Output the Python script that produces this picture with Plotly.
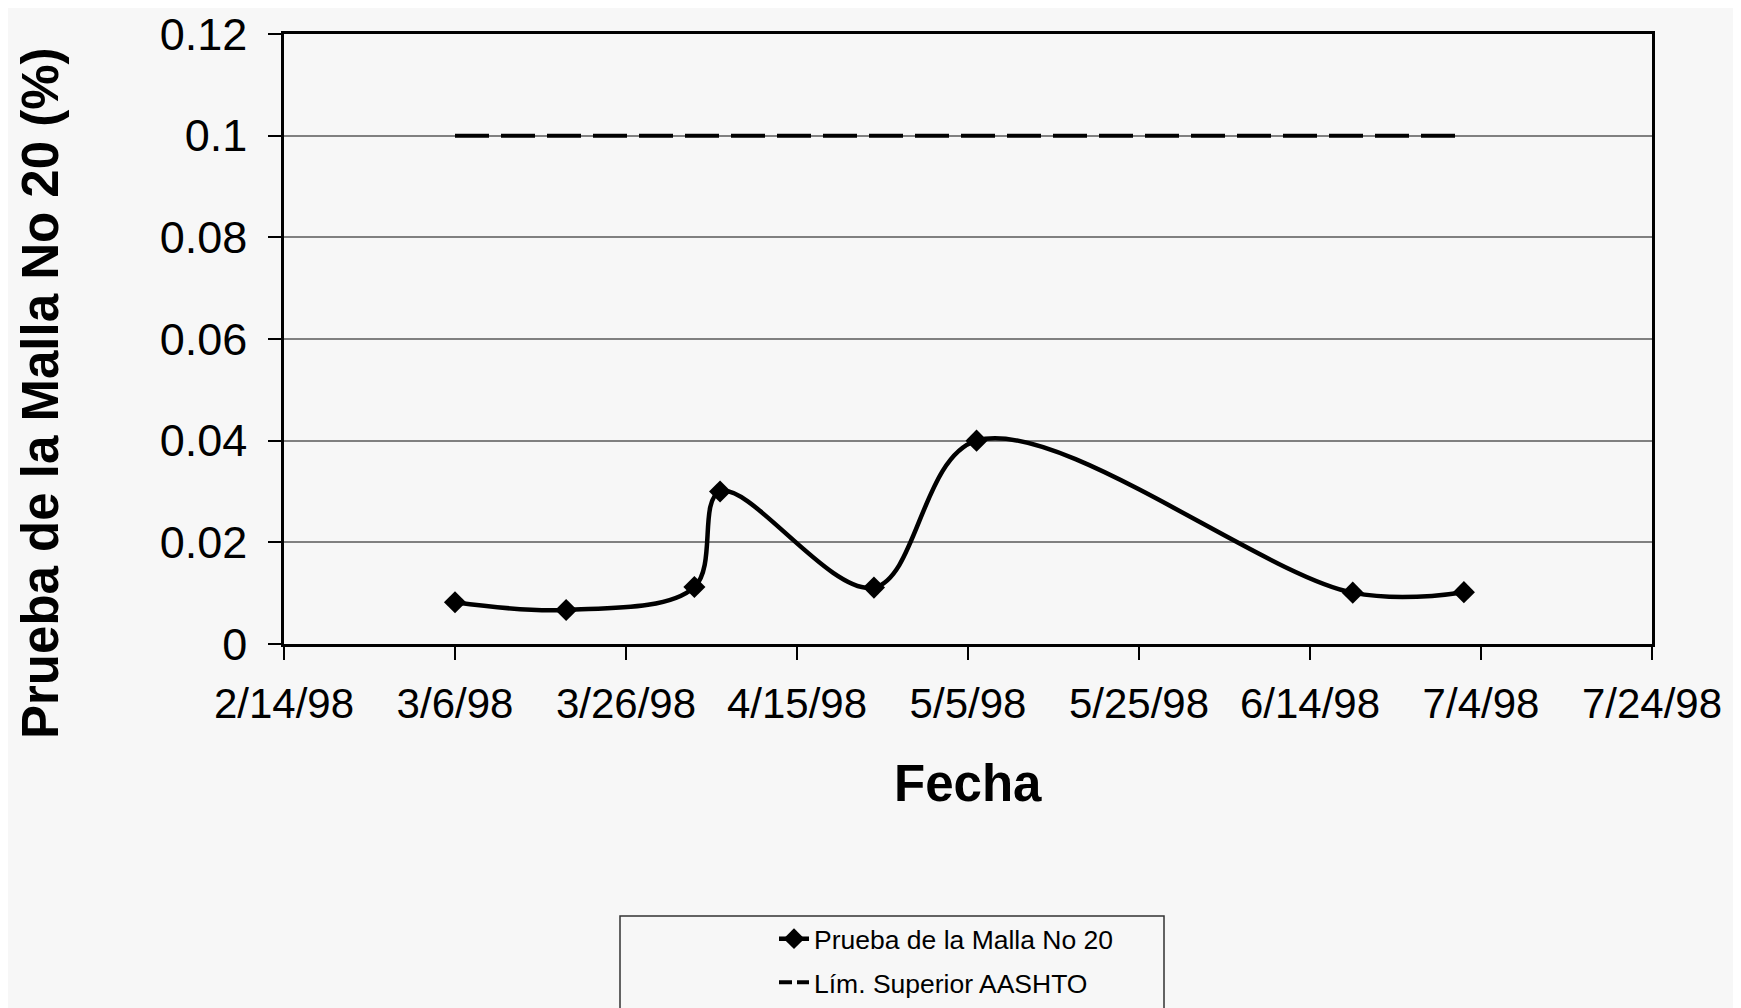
import plotly.graph_objects as go

# datos
fechas = ["1998-03-06", "1998-03-19", "1998-04-03", "1998-04-06",
          "1998-04-24", "1998-05-06", "1998-06-19", "1998-07-02"]
malla_20 = [0.0082, 0.0067, 0.0112, 0.030, 0.0111, 0.040, 0.0101, 0.0102]
lim_aashto = [0.1, 0.1, 0.1, 0.1, 0.1, 0.1, 0.1, 0.1]

y_ticks = [0, 0.02, 0.04, 0.06, 0.08, 0.1, 0.12]

FONT = "Arial, 'Liberation Sans', sans-serif"
BG = "#f7f7f7"

W, H = 1741, 1008
L, R, T, B = 276, 97, 26, 372
plot_w = W - L - R
plot_h = H - T - B


def px_x(px):
    return (px - L) / plot_w


def px_y(py):
    return (H - B - py) / plot_h


fig = go.Figure()

fig.add_trace(go.Scatter(
    x=fechas, y=malla_20,
    mode="lines+markers",
    name="Prueba de la Malla No 20",
    legendgroup="a",
    line=dict(color="black", width=4.5, shape="spline", smoothing=1),
    marker=dict(symbol="diamond", size=17, color="black"),
))

fig.add_trace(go.Scatter(
    x=fechas, y=lim_aashto,
    mode="lines",
    name="Lím. Superior AASHTO",
    legendgroup="b",
    showlegend=False,
    line=dict(color="black", width=4, dash="34px,12px"),
))

# entrada de leyenda con guiones cortos (el simbolo de la leyenda mide 30 px)
fig.add_trace(go.Scatter(
    x=[None], y=[None],
    mode="lines",
    name="Lím. Superior AASHTO",
    legendgroup="b",
    line=dict(color="black", width=4, dash="13px,5px"),
    hoverinfo="skip",
))

axis_common = dict(
    showline=True, linecolor="black", linewidth=2.5, mirror=True,
    ticks="outside", ticklen=13, tickwidth=1.5, tickcolor="black",
    zeroline=False, ticklabeloverflow="allow",
)

fig.update_xaxes(
    type="date",
    range=["1998-02-14", "1998-07-24"],
    tick0="1998-02-14", dtick=20 * 86400000,
    tickformat="%-m/%-d/%y",
    showgrid=False,
    ticklabelstandoff=8,
    tickfont=dict(family=FONT, size=42, color="black"),
    **axis_common,
)

fig.update_yaxes(
    range=[0, 0.12],
    tickvals=y_ticks,
    showgrid=True, gridcolor="#808080", gridwidth=1.5,
    ticklabelstandoff=12,
    tickfont=dict(family=FONT, size=45, color="black"),
    **axis_common,
)

# titulos de ejes
fig.add_annotation(
    text="<b>Fecha</b>", xref="paper", yref="paper",
    x=0.5, y=px_y(775), xanchor="center", yanchor="middle",
    showarrow=False, font=dict(family=FONT, size=51, color="black"),
)
fig.add_annotation(
    text="<b>Prueba de la Malla No 20 (%)</b>", xref="paper", yref="paper",
    x=px_x(32), y=px_y(385), xanchor="center", yanchor="middle",
    textangle=-90, showarrow=False,
    font=dict(family=FONT, size=51, color="black"),
)

# marco de la leyenda
fig.add_shape(
    type="rect", xref="paper", yref="paper",
    x0=px_x(612), x1=px_x(1156), y0=px_y(908), y1=px_y(1030),
    line=dict(color="#333333", width=1.5), fillcolor=BG, layer="below",
)

fig.update_layout(
    width=W, height=H,
    paper_bgcolor=BG, plot_bgcolor=BG,
    margin=dict(l=L, r=R, t=T, b=B, autoexpand=False),
    showlegend=True,
    legend=dict(
        x=px_x(766), y=px_y(907), xanchor="left", yanchor="top",
        bgcolor="rgba(0,0,0,0)", borderwidth=0,
        font=dict(family=FONT, size=26.5, color="black"),
        tracegroupgap=6,
    ),
)

fig.write_html("out.html")
